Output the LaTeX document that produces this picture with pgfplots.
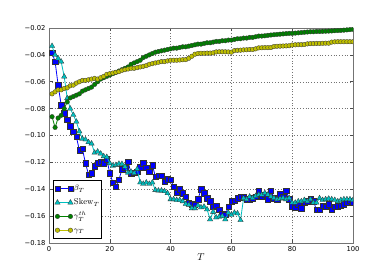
\documentclass[border=0pt]{standalone}
\usepackage{fontspec}
\usepackage{pgfplots}
\usepackage{pgfplotstable}
\pgfplotsset{compat=1.18}
\newfontfamily\dejavu{DejaVu Sans}
\definecolor{mplblue}{rgb}{0,0,1}
\definecolor{mplcyan}{rgb}{0,0.75,0.75}
\definecolor{mplgreen}{rgb}{0,0.5,0}
\definecolor{mplyellow}{rgb}{0.75,0.75,0}

\pgfplotstableread{
T b s g y
1 -0.0384 -0.0334 -0.086 -0.069
2 -0.045 -0.040 -0.094 -0.0675
3 -0.0624 -0.0426 -0.087 -0.066
4 -0.0773 -0.045 -0.085 -0.066
5 -0.0835 -0.0562 -0.080 -0.065
6 -0.088 -0.0723 -0.075 -0.0645
7 -0.093 -0.080 -0.072 -0.063
8 -0.097 -0.0847 -0.071 -0.0625
9 -0.101 -0.0897 -0.070 -0.061
10 -0.111 -0.097 -0.069 -0.060
11 -0.110 -0.1025 -0.067 -0.059
12 -0.1207 -0.103 -0.066 -0.059
13 -0.129 -0.105 -0.065 -0.0585
14 -0.128 -0.106 -0.064 -0.058
15 -0.1227 -0.1128 -0.062 -0.0575
16 -0.1207 -0.112 -0.060 -0.058
17 -0.1195 -0.1135 -0.058 -0.057
18 -0.1205 -0.1155 -0.057 -0.056
19 -0.1177 -0.116 -0.056 -0.0545
20 -0.128 -0.1207 -0.055 -0.054
21 -0.135 -0.1225 -0.054 -0.0535
22 -0.138 -0.122 -0.053 -0.053
23 -0.133 -0.121 -0.052 -0.0525
24 -0.125 -0.1212 -0.051 -0.0515
25 -0.124 -0.1232 -0.050 -0.051
26 -0.1195 -0.1277 -0.049 -0.0505
27 -0.128 -0.127 -0.047 -0.050
28 -0.1275 -0.128 -0.046 -0.050
29 -0.127 -0.125 -0.045 -0.0495
30 -0.1237 -0.135 -0.044 -0.049
31 -0.1207 -0.136 -0.042 -0.0485
32 -0.124 -0.135 -0.041 -0.048
33 -0.127 -0.136 -0.040 -0.047
34 -0.122 -0.135 -0.039 -0.0465
35 -0.1307 -0.1406 -0.038 -0.046
36 -0.130 -0.141 -0.0375 -0.0455
37 -0.130 -0.141 -0.037 -0.045
38 -0.1344 -0.1415 -0.0365 -0.045
39 -0.1325 -0.143 -0.036 -0.0445
40 -0.133 -0.1475 -0.0355 -0.044
41 -0.138 -0.1475 -0.035 -0.044
42 -0.1425 -0.148 -0.035 -0.044
43 -0.140 -0.148 -0.0345 -0.0438
44 -0.1428 -0.149 -0.034 -0.0436
45 -0.1455 -0.151 -0.034 -0.0435
46 -0.150 -0.1516 -0.0335 -0.0425
47 -0.151 -0.1542 -0.033 -0.041
48 -0.1516 -0.1542 -0.0325 -0.0395
49 -0.1475 -0.152 -0.032 -0.039
50 -0.140 -0.1535 -0.032 -0.0388
51 -0.143 -0.153 -0.0315 -0.0388
52 -0.1467 -0.155 -0.031 -0.0387
53 -0.149 -0.1624 -0.031 -0.0387
54 -0.153 -0.1568 -0.0305 -0.0385
55 -0.152 -0.161 -0.030 -0.0378
56 -0.1554 -0.1605 -0.030 -0.0377
57 -0.158 -0.160 -0.0295 -0.0377
58 -0.159 -0.1624 -0.0295 -0.0377
59 -0.153 -0.1575 -0.029 -0.0378
60 -0.149 -0.159 -0.029 -0.038
61 -0.1487 -0.1575 -0.0285 -0.0368
62 -0.1467 -0.158 -0.028 -0.0366
63 -0.1455 -0.163 -0.028 -0.0365
64 -0.146 -0.1467 -0.0275 -0.0363
65 -0.1475 -0.1475 -0.0275 -0.0362
66 -0.1475 -0.1455 -0.027 -0.036
67 -0.1467 -0.1465 -0.027 -0.036
68 -0.1455 -0.145 -0.0265 -0.0355
69 -0.141 -0.144 -0.026 -0.0348
70 -0.145 -0.144 -0.026 -0.0347
71 -0.144 -0.1428 -0.0258 -0.0346
72 -0.1475 -0.144 -0.0255 -0.0346
73 -0.141 -0.1455 -0.0252 -0.0345
74 -0.1467 -0.1465 -0.025 -0.0338
75 -0.1475 -0.1475 -0.0248 -0.0336
76 -0.1435 -0.147 -0.0246 -0.0335
77 -0.1455 -0.1465 -0.0244 -0.0334
78 -0.141 -0.1475 -0.0242 -0.0333
79 -0.1475 -0.1465 -0.024 -0.0332
80 -0.1525 -0.150 -0.024 -0.0327
81 -0.1535 -0.150 -0.0238 -0.0325
82 -0.151 -0.149 -0.0236 -0.0324
83 -0.154 -0.149 -0.0234 -0.0324
84 -0.150 -0.148 -0.0232 -0.0323
85 -0.149 -0.149 -0.023 -0.0318
86 -0.1475 -0.1475 -0.0228 -0.0316
87 -0.149 -0.150 -0.0228 -0.0316
88 -0.1554 -0.150 -0.0226 -0.0315
89 -0.155 -0.1467 -0.0226 -0.0315
90 -0.152 -0.148 -0.0225 -0.0314
91 -0.153 -0.1475 -0.0224 -0.0313
92 -0.151 -0.147 -0.0223 -0.0313
93 -0.1554 -0.1475 -0.0222 -0.0305
94 -0.153 -0.148 -0.022 -0.0303
95 -0.1525 -0.149 -0.0219 -0.0302
96 -0.152 -0.148 -0.0218 -0.0302
97 -0.151 -0.1475 -0.0216 -0.0302
98 -0.150 -0.1475 -0.0214 -0.0302
99 -0.1485 -0.1475 -0.0212 -0.0302
100 -0.150 -0.148 -0.021 -0.0302
}\datatable

\begin{document}
\begin{tikzpicture}
\useasboundingbox (-49bp,-35bp) rectangle (343bp,243bp);
\begin{axis}[
  at={(0,0)}, anchor=south west,
  scale only axis, width=304bp, height=215bp,
  xmin=0, xmax=100, ymin=-0.18, ymax=-0.02,
  xtick={0,20,40,60,80,100},
  xticklabels={0,20,40,60,80,100},
  ytick={-0.18,-0.16,-0.14,-0.12,-0.10,-0.08,-0.06,-0.04,-0.02},
  yticklabels={−0.18,−0.16,−0.14,−0.12,−0.10,−0.08,−0.06,−0.04,−0.02},
  ticklabel style={font=\dejavu\fontsize{6.8}{7}\selectfont},
  tick align=inside,
  major tick length=3.5bp,
  tick style={black!70, line width=0.5pt},
  grid=major,
  major grid style={black!55, dash pattern=on 1pt off 1.8pt, line width=0.45pt},
  axis line style={black!55, line width=0.9pt},
  xlabel={$T$},
  xlabel style={font=\fontsize{10}{11}\selectfont, at={(axis description cs:0.5,0)}, anchor=north, yshift=-10.5bp, inner sep=0pt},
  clip marker paths=true,
  legend cell align=left,
  legend style={at={(0.013,0.019)}, anchor=south west, draw=black, line width=0.6pt,
    fill=white, font=\fontsize{8.5}{9}\selectfont, row sep=0pt, inner sep=1.5bp,
    nodes={text height=8.2bp, text depth=4bp, inner sep=0.8bp}},
  legend image code/.code={\draw[mark repeat=1] plot coordinates {(0bp,0bp) (13bp,0bp)};},
]
\addplot[color=mplblue, line width=0.8pt, mark=square*, mark size=2.7bp,
  mark options={fill=mplblue, draw=black!80, line width=0.3pt, solid}]
  table[x=T, y=b] {\datatable};
\addlegendentry{$\beta_T$}
\addplot[color=mplcyan, line width=0.8pt, mark=triangle*, mark size=3.1bp,
  mark options={fill=mplcyan, draw=black!80, line width=0.3pt, solid}]
  table[x=T, y=s] {\datatable};
\addlegendentry{$\mathrm{Skew}_T$}
\addplot[color=mplgreen, line width=0.8pt, mark=*, mark size=2.3bp,
  mark options={fill=mplgreen, draw=black!80, line width=0.3pt, solid}]
  table[x=T, y=g] {\datatable};
\addlegendentry{$\gamma_T^{th}$}
\addplot[color=mplyellow, line width=0.8pt, mark=*, mark size=2.3bp,
  mark options={fill=mplyellow, draw=black!80, line width=0.3pt, solid}]
  table[x=T, y=y] {\datatable};
\addlegendentry{$\gamma_T$}
\end{axis}
\end{tikzpicture}
\end{document}
